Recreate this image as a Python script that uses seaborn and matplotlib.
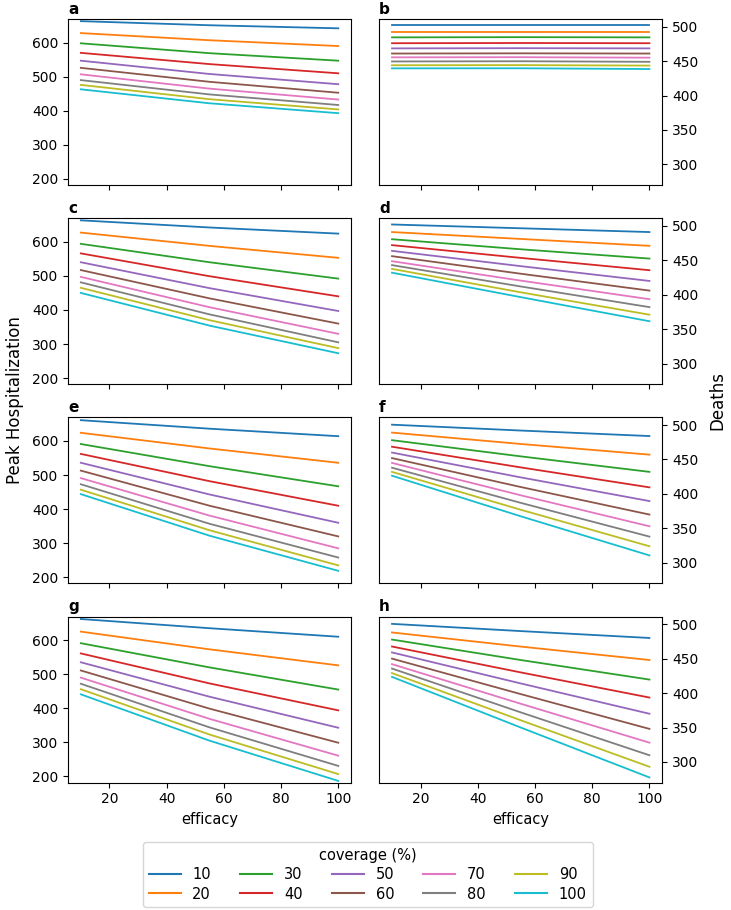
import numpy as np
import pandas as pd
import seaborn as sns
import matplotlib.pyplot as plt
from matplotlib.lines import Line2D

# efficacy points and coverage levels
efficacy = [10, 55, 100]
coverage = [10, 20, 30, 40, 50, 60, 70, 80, 90, 100]

# peak hospitalization (left column), one row per coverage: value at efficacy 10, 55, 100
hosp_a = [[663, 651, 642], [628, 607, 590], [598, 569, 547], [570, 537, 510], [547, 508, 478],
          [526, 485, 453], [507, 465, 433], [490, 448, 417], [476, 434, 404], [463, 422, 393]]
hosp_c = [[663, 642, 624], [627, 588, 553], [594, 540, 492], [566, 499, 440], [540, 464, 397],
          [517, 434, 360], [497, 408, 330], [481, 387, 305], [465, 370, 288], [450, 354, 273]]
hosp_e = [[661, 636, 614], [624, 578, 536], [591, 526, 467], [562, 482, 410], [536, 443, 360],
          [513, 410, 320], [491, 381, 285], [473, 357, 258], [457, 338, 235], [444, 322, 219]]
hosp_g = [[662, 635, 610], [625, 573, 526], [591, 520, 455], [561, 473, 394], [535, 434, 343],
          [511, 399, 299], [490, 369, 261], [472, 344, 231], [456, 323, 207], [441, 305, 187]]

# deaths (right column)
deaths_b = [[503, 503, 503], [493, 493, 493], [484.5, 484.8, 484.5], [476, 476.3, 476], [468.5, 468.8, 468.5],
            [461, 461.3, 461], [455.5, 455.7, 455], [449.5, 449.8, 449], [444, 444.2, 443.5], [439.5, 439.6, 438.5]]
deaths_d = [[502, 496.5, 491], [491, 481, 471], [480.6, 466, 452.5], [472, 453.5, 435.6], [463.7, 441.5, 420],
            [456, 430.5, 406], [448.7, 420.5, 393.5], [443, 412, 382], [437.5, 403.5, 371], [432, 396.5, 361.5]]
deaths_f = [[500.5, 492, 484], [489, 472.5, 457], [478, 454.5, 432], [468.5, 438.5, 409.5], [460, 424, 389.6],
            [452, 410, 370], [445, 398, 353], [438, 387, 338], [432, 377, 324], [426.4, 367.5, 310.7]]
deaths_h = [[500.5, 490, 480], [488, 467.5, 448], [477.7, 448, 419.6], [467.6, 430, 393.5], [459, 414, 370],
            [450, 398.5, 348], [442, 384.5, 328], [435.6, 372, 309.7], [429, 360.5, 293], [423.5, 350, 277.5]]

panels = [("a", hosp_a), ("b", deaths_b), ("c", hosp_c), ("d", deaths_d),
          ("e", hosp_e), ("f", deaths_f), ("g", hosp_g), ("h", deaths_h)]

palette = sns.color_palette("tab10", len(coverage))

fig, axes = plt.subplots(4, 2, figsize=(7.31, 9.10), dpi=100, sharex=True)
fig.subplots_adjust(left=0.093, right=0.906, top=0.979, bottom=0.140, wspace=0.099, hspace=0.2)

for ax, (letter, values) in zip(axes.flat, panels):
    rows = []
    for cov, vals in zip(coverage, values):
        for eff, v in zip(efficacy, vals):
            rows.append({"efficacy": eff, "value": v, "coverage": cov})
    df = pd.DataFrame(rows)
    sns.lineplot(data=df, x="efficacy", y="value", hue="coverage", palette=palette,
                 legend=False, ax=ax, linewidth=1.3)
    ax.set_title(letter, loc="left", fontweight="bold", fontsize=11, pad=4)
    ax.set_ylabel("")
    ax.set_xlabel("")

for ax in axes[:, 0]:
    ax.set_ylim(182, 669)
    ax.set_yticks([200, 300, 400, 500, 600])
for ax in axes[:, 1]:
    ax.set_ylim(270, 511)
    ax.set_yticks([300, 350, 400, 450, 500])
    ax.yaxis.tick_right()

for ax in axes[-1]:
    ax.set_xlabel("efficacy", fontsize=10.5)
    ax.set_xticks([20, 40, 60, 80, 100])

fig.text(0.02, 0.56, "Peak Hospitalization", rotation=90, va="center", ha="center", fontsize=12)
fig.text(0.982, 0.56, "Deaths", rotation=90, va="center", ha="center", fontsize=12)

handles = [Line2D([], [], color=c, linewidth=1.5) for c in palette]
fig.legend(handles, [str(c) for c in coverage], title="coverage (%)", ncol=5,
           loc="upper center", bbox_to_anchor=(0.503, 0.078), fontsize=10.5, title_fontsize=10.5,
           columnspacing=2.0, handlelength=2.2, labelspacing=0.3, borderaxespad=0.2)

plt.savefig("out.png", dpi=100)
